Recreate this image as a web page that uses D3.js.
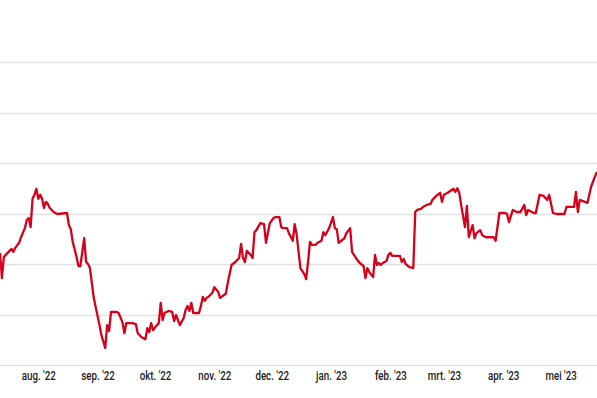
<!DOCTYPE html>
<html>
<head>
<meta charset="utf-8">
<script src="https://cdn.jsdelivr.net/npm/d3@7"></script>
<style>
  html, body { margin: 0; padding: 0; background: #fff; }
  svg { display: block; }
  .tick text { font-family: Roboto, 'Liberation Sans', sans-serif; }
</style>
</head>
<body>
<div id="chart"></div>
<script>
var W = 597,
  H = 398;

// koers per dag (gelezen uit de grafiek)
var dates = [
  '2022-07-12','2022-07-13','2022-07-14','2022-07-15','2022-07-17','2022-07-18','2022-07-19','2022-07-20',
  '2022-07-22','2022-07-23','2022-07-25','2022-07-26','2022-07-27','2022-07-28','2022-07-29','2022-07-30',
  '2022-07-31','2022-08-01','2022-08-02','2022-08-03','2022-08-04','2022-08-05','2022-08-06','2022-08-07',
  '2022-08-09','2022-08-10','2022-08-11','2022-08-16','2022-08-17','2022-08-18','2022-08-19','2022-08-21',
  '2022-08-22','2022-08-23','2022-08-25','2022-08-26','2022-08-27','2022-08-28','2022-08-30','2022-08-31',
  '2022-09-01','2022-09-02','2022-09-03','2022-09-05','2022-09-06','2022-09-07','2022-09-08','2022-09-11',
  '2022-09-12','2022-09-14','2022-09-15','2022-09-16','2022-09-19','2022-09-21','2022-09-22','2022-09-24',
  '2022-09-26','2022-09-27','2022-09-28','2022-09-29','2022-09-30','2022-10-02','2022-10-03','2022-10-04',
  '2022-10-05','2022-10-06','2022-10-08','2022-10-10','2022-10-11','2022-10-12','2022-10-14','2022-10-16',
  '2022-10-17','2022-10-18','2022-10-19','2022-10-20','2022-10-21','2022-10-24','2022-10-25','2022-10-26',
  '2022-10-27','2022-10-28','2022-10-29','2022-10-31','2022-11-01','2022-11-03','2022-11-04','2022-11-07',
  '2022-11-08','2022-11-10','2022-11-12','2022-11-14','2022-11-15','2022-11-16','2022-11-17','2022-11-18',
  '2022-11-20','2022-11-21','2022-11-22','2022-11-23','2022-11-25','2022-11-27','2022-11-28','2022-11-30',
  '2022-12-02','2022-12-03','2022-12-05','2022-12-06','2022-12-07','2022-12-09','2022-12-10','2022-12-12',
  '2022-12-13','2022-12-14','2022-12-16','2022-12-18','2022-12-19','2022-12-20','2022-12-21','2022-12-22',
  '2022-12-24','2022-12-25','2022-12-27','2022-12-28','2022-12-29','2022-12-31','2023-01-02','2023-01-03',
  '2023-01-04','2023-01-05','2023-01-08','2023-01-09','2023-01-11','2023-01-12','2023-01-14','2023-01-16',
  '2023-01-18','2023-01-19','2023-01-20','2023-01-21','2023-01-23','2023-01-24','2023-01-25','2023-01-26',
  '2023-01-27','2023-01-28','2023-01-30','2023-01-31','2023-02-01','2023-02-02','2023-02-06','2023-02-07',
  '2023-02-08','2023-02-09','2023-02-11','2023-02-13','2023-02-14','2023-02-15','2023-02-17','2023-02-18',
  '2023-02-20','2023-02-22','2023-02-23','2023-02-25','2023-02-27','2023-02-28','2023-03-01','2023-03-03',
  '2023-03-06','2023-03-07','2023-03-08','2023-03-09','2023-03-10','2023-03-12','2023-03-13','2023-03-14',
  '2023-03-16','2023-03-17','2023-03-18','2023-03-20','2023-03-21','2023-03-23','2023-03-27','2023-03-28',
  '2023-03-30','2023-04-02','2023-04-03','2023-04-04','2023-04-06','2023-04-08','2023-04-10','2023-04-12',
  '2023-04-13','2023-04-14','2023-04-17','2023-04-18','2023-04-20','2023-04-22','2023-04-24','2023-04-25',
  '2023-04-26','2023-04-27','2023-04-29','2023-05-03','2023-05-04','2023-05-08','2023-05-09','2023-05-10',
  '2023-05-11','2023-05-15','2023-05-17','2023-05-19','2023-05-20'
];

var values = [
  62.2,57.2,61.4,61.8,62.6,63.0,62.4,63.2,
  64.2,65.3,67.1,68.7,69.1,67.3,72.9,73.7,
  74.9,72.9,73.7,72.9,71.1,72.3,71.9,71.1,
  70.3,70.1,69.9,70.1,67.7,66.9,64.4,61.4,
  59.6,59.6,65.1,60.4,60.0,59.2,53.3,51.5,
  49.7,47.9,45.9,43.4,47.9,46.7,50.5,50.5,
  50.3,48.5,46.3,48.3,48.3,48.1,46.3,45.5,
  45.1,47.3,46.5,48.3,46.9,47.9,48.3,52.3,
  48.9,50.3,50.7,50.5,48.7,49.9,47.9,49.3,
  50.9,51.7,50.7,52.3,50.3,50.3,51.7,53.5,
  52.7,53.3,53.5,54.3,55.4,54.5,53.3,54.1,
  56.2,59.8,60.4,61.2,64.0,61.2,60.4,62.6,
  61.8,61.2,66.3,66.7,68.1,67.9,64.2,68.1,
  69.1,69.3,69.3,67.3,67.1,67.1,66.1,64.6,
  67.9,65.9,59.2,58.0,57.0,60.4,64.4,63.8,
  63.8,64.2,64.6,66.3,65.7,67.1,69.3,67.1,
  66.9,64.2,65.1,66.1,67.1,62.4,61.2,60.2,
  59.6,57.2,59.2,58.4,57.4,61.8,59.8,60.2,
  59.8,60.2,60.6,61.8,62.2,61.6,61.6,60.4,
  61.0,60.0,59.4,59.2,70.3,70.7,70.9,71.3,
  71.7,71.9,72.7,73.5,74.1,72.3,73.7,74.1,
  74.9,74.3,75.0,74.1,71.7,67.3,71.5,65.3,
  67.7,65.1,66.1,66.7,65.7,65.3,65.3,64.6,
  70.1,70.1,69.9,68.3,70.7,70.3,70.3,71.7,
  69.7,70.7,70.1,70.1,73.7,73.5,72.7,73.7,
  71.9,70.1,69.9,69.9,71.3,71.3,74.3,70.3,
  72.7,72.1,75.4,77.4,78.2
];

var xDomain = ['2022-07-12', '2023-05-20'];
var yTicks = [40, 50, 60, 70, 80, 90, 100];
var monthTicks = ['2022-08-01','2022-09-01','2022-10-01','2022-11-01','2022-12-01',
  '2023-01-01','2023-02-01','2023-03-01','2023-04-01','2023-05-01'];
var tickLabels = ["aug. '22","sep. '22","okt. '22","nov. '22","dec. '22",
  "jan. '23","feb. '23","mrt. '23","apr. '23","mei '23"];

var parse = d3.utcParse('%Y-%m-%d');
var data = dates.map(function(d, i) { return { date: parse(d), value: values[i] }; });

var x = d3.scaleUtc()
  .domain(xDomain.map(parse))
  .range([0, W]);

var y = d3.scaleLinear()
  .domain([40, 100])
  .range([365, 62]);

var svg = d3.select('#chart')
  .append('svg')
  .attr('width', W)
  .attr('height', H)
  .attr('viewBox', '0 0 ' + W + ' ' + H);

// horizontale rasterlijnen
svg.append('g')
  .selectAll('line')
  .data(yTicks)
  .enter().append('line')
  .attr('x1', 0)
  .attr('x2', W)
  .attr('y1', function(d) { return Math.round(y(d)) + 0.5; })
  .attr('y2', function(d) { return Math.round(y(d)) + 0.5; })
  .attr('stroke', '#e2e2e2')
  .attr('stroke-width', 1.3);

// maanden
var tickDates = monthTicks.map(parse);
var xAxis = d3.axisBottom(x)
  .tickValues(tickDates)
  .tickSize(0)
  .tickPadding(6)
  .tickFormat(function(d, i) { return tickLabels[i]; });

svg.append('g')
  .attr('transform', 'translate(0,' + y(40) + ')')
  .call(xAxis)
  .call(function(g) { g.select('.domain').remove(); })
  .selectAll('text')
  .attr('font-size', '12.5px')
  .attr('font-weight', 500)
  .attr('transform', 'scale(0.78,1)')
  .attr('fill', '#222');

var line = d3.line()
  .x(function(d) { return x(d.date); })
  .y(function(d) { return y(d.value); });

svg.append('path')
  .datum(data)
  .attr('fill', 'none')
  .attr('stroke', '#d5001c')
  .attr('stroke-width', 2.3)
  .attr('stroke-linejoin', 'round')
  .attr('d', line);
</script>
</body>
</html>
